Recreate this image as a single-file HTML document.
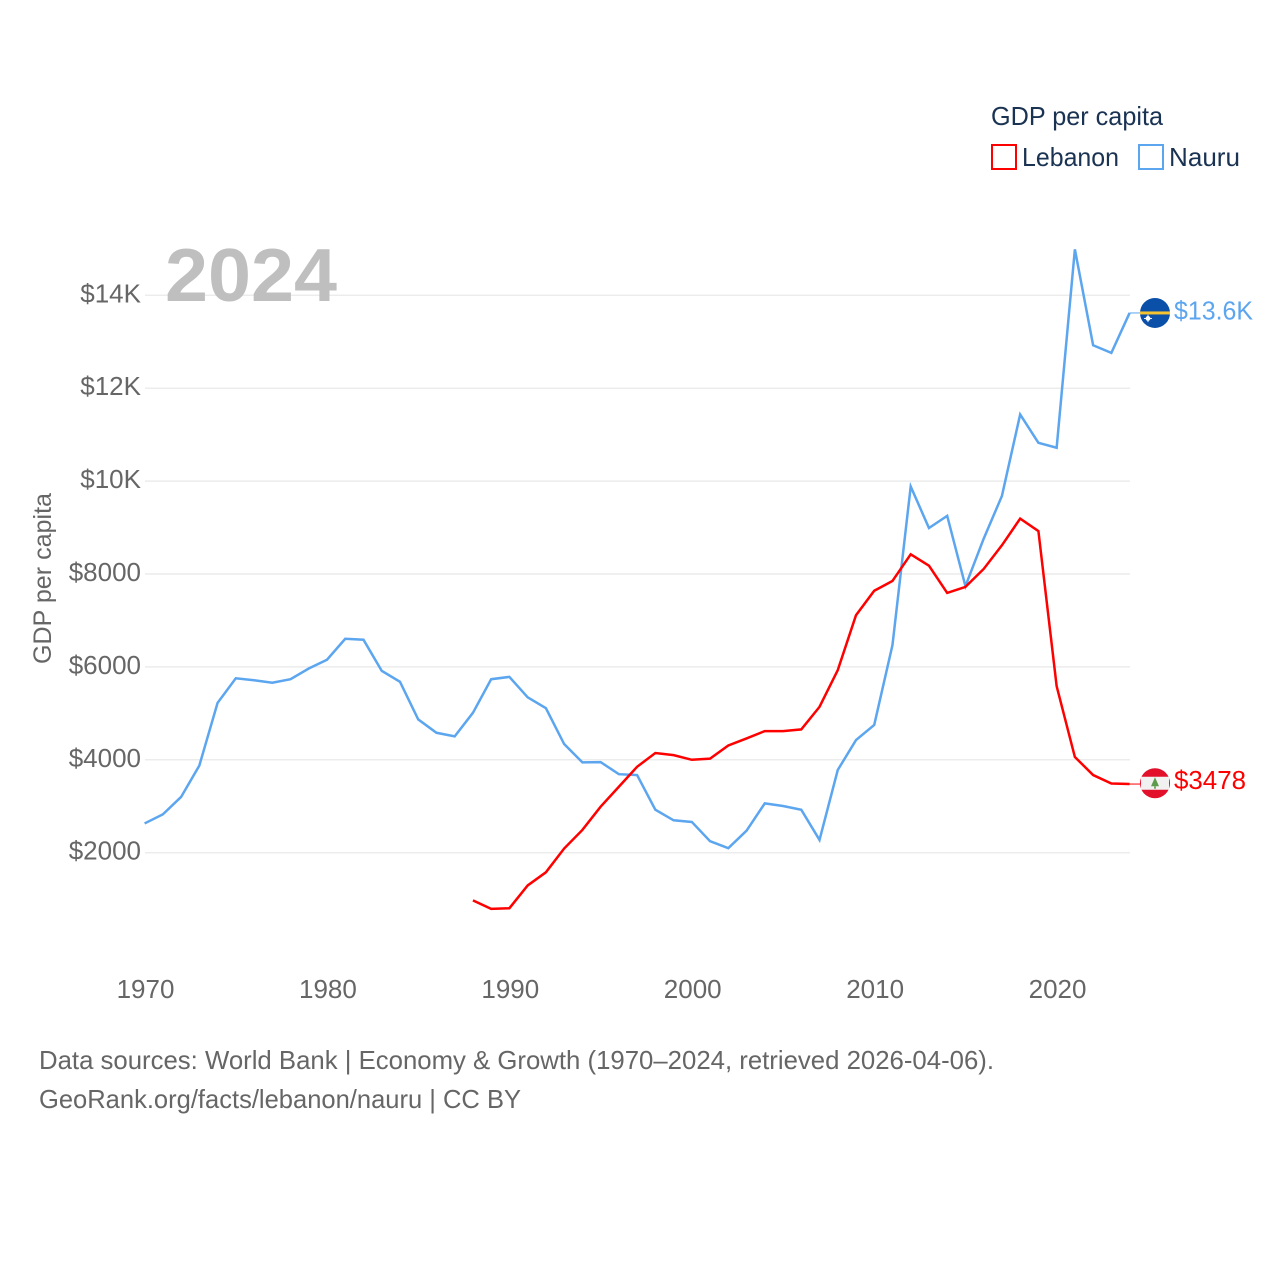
<!DOCTYPE html>
<html lang="en">
<head>
<meta charset="utf-8">
<title>GDP per capita: Lebanon and Nauru</title>
<style>
html,body{margin:0;padding:0;background:#fff;}
#chart{display:block;width:1280px;height:1280px;font-family:"Liberation Sans",sans-serif;}
</style>
</head>
<body>
<svg id="chart" xmlns="http://www.w3.org/2000/svg" width="1280" height="1280" viewBox="0 0 1280 1280">
  <rect x="0" y="0" width="1280" height="1280" fill="#fff"/>
  <g id="grid"></g>
  <g id="yticks"></g>
  <g id="xticks"></g>
  <text x="165" y="301" font-size="75" font-weight="700" fill="#bfbfbf" textLength="172" lengthAdjust="spacingAndGlyphs">2024</text>
  <text transform="translate(51 578.5) rotate(-90)" text-anchor="middle" font-size="25" fill="#666" textLength="171" lengthAdjust="spacingAndGlyphs">GDP per capita</text>
  <g id="series"></g>
  <g id="ends"></g>
  <g>
    <text x="991" y="125" font-size="26" fill="#1a3353" textLength="172" lengthAdjust="spacingAndGlyphs">GDP per capita</text>
    <rect x="992" y="145" width="24" height="24" fill="none" stroke="#ff0000" stroke-width="2"/>
    <text x="1022" y="166" font-size="26" fill="#1a3353" textLength="97" lengthAdjust="spacingAndGlyphs">Lebanon</text>
    <rect x="1139" y="145" width="24" height="24" fill="none" stroke="#5ca5ef" stroke-width="2"/>
    <text x="1169" y="166" font-size="26" fill="#1a3353" textLength="71" lengthAdjust="spacingAndGlyphs">Nauru</text>
  </g>
  <text x="39" y="1069" font-size="26" fill="#666" textLength="955" lengthAdjust="spacingAndGlyphs">Data sources: World Bank | Economy &amp; Growth (1970–2024, retrieved 2026-04-06).</text>
  <text x="39" y="1108" font-size="26" fill="#666" textLength="482" lengthAdjust="spacingAndGlyphs">GeoRank.org/facts/lebanon/nauru | CC BY</text>
</svg>
<script>
const yTickValues = [2000, 4000, 6000, 8000, 10000, 12000, 14000];
const yTickLabels = ["$2000", "$4000", "$6000", "$8000", "$10K", "$12K", "$14K"];
const xTickYears = [1970, 1980, 1990, 2000, 2010, 2020];
const xTickLabels = ["1970", "1980", "1990", "2000", "2010", "2020"];
const nauruYears = [1970,1971,1972,1973,1974,1975,1976,1977,1978,1979,1980,1981,1982,1983,1984,1985,1986,1987,1988,1989,1990,1991,1992,1993,1994,1995,1996,1997,1998,1999,2000,2001,2002,2003,2004,2005,2006,2007,2008,2009,2010,2011,2012,2013,2014,2015,2016,2017,2018,2019,2020,2021,2022,2023,2024];
const nauruValues = [2630,2825,3200,3875,5225,5755,5712,5660,5735,5965,6155,6605,6585,5915,5680,4870,4582,4505,5012,5735,5785,5345,5112,4340,3945,3950,3690,3672,2925,2698,2662,2248,2098,2475,3062,3005,2925,2275,3780,4425,4750,6470,9885,8990,9252,7738,8760,9680,11435,10825,10718,14990,12925,12760,13620];
const lebanonYears = [1988,1989,1990,1991,1992,1993,1994,1995,1996,1997,1998,1999,2000,2001,2002,2003,2004,2005,2006,2007,2008,2009,2010,2011,2012,2013,2014,2015,2016,2017,2018,2019,2020,2021,2022,2023,2024];
const lebanonValues = [974,790,805,1295,1578,2090,2490,2990,3420,3850,4146,4100,4000,4025,4308,4460,4618,4618,4655,5140,5930,7112,7640,7850,8425,8180,7592,7722,8108,8618,9192,8925,5585,4060,3672,3490,3478];

const NS = "http://www.w3.org/2000/svg";
function xScale(year){ return 144.6 + (year - 1970) * (985 / 54); }
function yScale(v){ return 852.7 - (v - 2000) * 0.04645; }
function fmt(v){ return v >= 10000 ? "$" + (v / 1000).toFixed(1) + "K" : "$" + Math.round(v); }
function make(tag, attrs, parent){
  const el = document.createElementNS(NS, tag);
  for (const k in attrs) el.setAttribute(k, attrs[k]);
  parent.appendChild(el);
  return el;
}

const grid = document.getElementById("grid");
const yticks = document.getElementById("yticks");
yTickValues.forEach(function(v, i){
  const line = make("line", {x1:145, x2:1130, y1:yScale(v), y2:yScale(v), stroke:"#ececec", "stroke-width":1.5}, grid);
  
  
  const t = make("text", {x:141, y:yScale(v)+7, "text-anchor":"end", "font-size":26, fill:"#666"}, yticks);
  t.textContent = yTickLabels[i];
  
  
});

const xticks = document.getElementById("xticks");
xTickYears.forEach(function(yr, i){
  const t = make("text", {x:xScale(yr)+0.9, y:998, "text-anchor":"middle", "font-size":26, fill:"#666"}, xticks);
  t.textContent = xTickLabels[i];
  
  
});

function drawLine(years, values, color, name){
  const pts = years.map(function(yr, i){ return xScale(yr).toFixed(2) + "," + yScale(values[i]).toFixed(2); }).join(" ");
  const p = make("polyline", {points:pts, fill:"none", stroke:color, "stroke-width":2.5, "stroke-linejoin":"miter"}, document.getElementById("series"));
  
  
}
drawLine(nauruYears, nauruValues, "#5ca5ef", "line-nauru");
drawLine(lebanonYears, lebanonValues, "#ff0000", "line-lebanon");

const ends = document.getElementById("ends");
function drawEnd(years, values, color, lineName, labelName, flagFn, labelWidth, labelShift){
  const lastY = yScale(values[values.length - 1]);
  const lastX = xScale(years[years.length - 1]);
  const leader = make("line", {x1:lastX, x2:1140, y1:lastY, y2:lastY, stroke:color, "stroke-width":1}, ends);
  
  
  flagFn(1155, lastY);
  const t = make("text", {x:1174, y:lastY+labelShift, "font-size":26, fill:color, textLength:labelWidth, lengthAdjust:"spacingAndGlyphs"}, ends);
  t.textContent = fmt(values[values.length - 1]);
  
  
}

function nauruFlag(cx, cy){
  const g = make("g", {}, ends);
  
  
  make("circle", {cx:cx, cy:cy, r:15, fill:"#0a4fa8"}, g);
  make("rect", {x:cx-15, y:cy-1.5, width:30, height:3, fill:"#f4c430"}, g);
  make("circle", {cx:cx-7, cy:cy+5.5, r:2.4, fill:"#ffffff"}, g);
  make("line", {x1:cx-11, x2:cx-3, y1:cy+5.5, y2:cy+5.5, stroke:"#ffffff", "stroke-width":0.9}, g);
  make("line", {x1:cx-7, x2:cx-7, y1:cy+1.8, y2:cy+9.2, stroke:"#ffffff", "stroke-width":0.9}, g);
}
function lebanonFlag(cx, cy){
  const g = make("g", {}, ends);
  
  
  const c = cy - 0.8;
  make("circle", {cx:cx, cy:c, r:15, fill:"#e3102c"}, g);
  make("rect", {x:cx-14, y:c-6.5, width:28, height:13, fill:"#f1f1f1"}, g);
  make("polygon", {points:[cx+","+(c-6), (cx+4)+","+(c+3), (cx-4)+","+(c+3)].join(" "), fill:"#5d9b4c"}, g);
  make("rect", {x:cx-0.8, y:c+3, width:1.6, height:2.5, fill:"#5d9b4c"}, g);
}
drawEnd(nauruYears, nauruValues, "#5ca5ef", "leader-line-nauru", "end-label-nauru", nauruFlag, 79, 6.5);
drawEnd(lebanonYears, lebanonValues, "#ff0000", "leader-line-lebanon", "end-label-lebanon", lebanonFlag, 72, 5);
</script>
</body>
</html>
